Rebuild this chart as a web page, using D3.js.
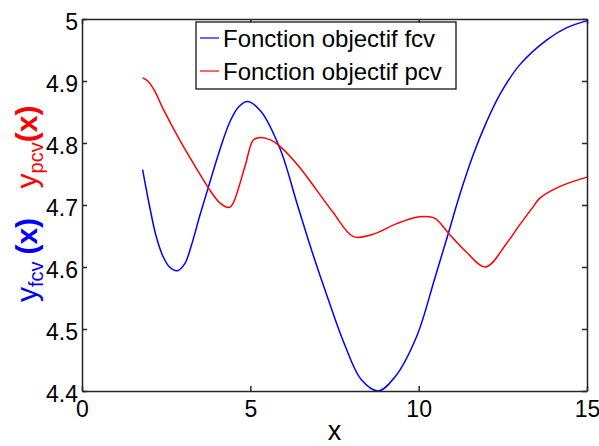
<!DOCTYPE html>
<html>
<head>
<meta charset="utf-8">
<script src="https://cdn.jsdelivr.net/npm/d3@7"></script>
<style>
  body { margin: 0; background: #fff; }
  svg { display: block; font-family: "Liberation Sans", Arial, Helvetica, sans-serif; }
</style>
</head>
<body>
<svg id="chart" width="599" height="446"></svg>
<script>
// curve
const fcvX = [1.8, 2.0, 2.2, 2.4, 2.6, 2.83, 3.05, 3.25, 3.5, 3.75, 4.1, 4.4, 4.65, 4.91, 5.3, 5.88, 6.4, 6.82, 7.3, 7.8, 8.3, 8.8, 9.3, 9.94, 10.48, 10.88, 11.2, 11.62, 12.0, 12.41, 13.0, 13.8, 14.4, 15.0];
const fcvY = [4.757, 4.700, 4.650, 4.618, 4.600, 4.594, 4.605, 4.635, 4.683, 4.728, 4.790, 4.835, 4.858, 4.867, 4.852, 4.791, 4.70, 4.627, 4.55, 4.475, 4.418, 4.400, 4.423, 4.488, 4.582, 4.654, 4.713, 4.781, 4.832, 4.878, 4.926, 4.966, 4.986, 4.997];

const pcvX = [1.8, 1.95, 2.15, 2.41, 2.9, 3.41, 3.75, 4.1, 4.38, 4.49, 4.84, 5.09, 5.3, 5.6, 5.83, 6.4, 6.97, 7.47, 8.06, 8.6, 9.35, 9.9, 10.29, 10.5, 10.88, 11.4, 11.99, 12.61, 13.0, 13.4, 13.6, 14.2, 15.0];
const pcvY = [4.905, 4.900, 4.885, 4.855, 4.805, 4.758, 4.728, 4.703, 4.696, 4.703, 4.762, 4.805, 4.809, 4.805, 4.797, 4.765, 4.724, 4.687, 4.649, 4.652, 4.670, 4.680, 4.681, 4.678, 4.655, 4.625, 4.600, 4.638, 4.668, 4.697, 4.711, 4.730, 4.745];

const xTicks = [0, 5, 10, 15];
const yTicks = [4.4, 4.5, 4.6, 4.7, 4.8, 4.9, 5];
const legendLabels = ['Fonction objectif fcv', 'Fonction objectif pcv'];
const seriesColors = ['#0000ff', '#ff0000'];

const svg = d3.select('#chart');
const box = { left: 82, right: 587, top: 19, bottom: 391 };

const x = d3.scaleLinear().domain([0, 15]).range([box.left, box.right]);
const y = d3.scaleLinear().domain([4.4, 5]).range([box.bottom, box.top]);

const series = [
    { xs: fcvX, ys: fcvY, color: seriesColors[0] },
    { xs: pcvX, ys: pcvY, color: seriesColors[1] }
];

const line = d3.line()
    .x(d => x(d[0]))
    .y(d => y(d[1]))
    .curve(d3.curveCatmullRom.alpha(0.5));

series.forEach(s => {
    svg.append('path')
        .datum(s.xs.map((v, i) => [v, s.ys[i]]))
        .attr('d', line)
        .attr('fill', 'none')
        .attr('stroke', s.color)
        .attr('stroke-width', 1.5);
});

// axes box with inward ticks on all four sides
const tickLen = 5;
const axisColor = '#262626';

svg.append('g')
    .attr('transform', `translate(0,${box.bottom})`)
    .call(d3.axisBottom(x).tickValues(xTicks).tickSizeInner(-tickLen).tickSizeOuter(0).tickFormat(d3.format('d')))
    .call(g => g.selectAll('text').attr('dy', null).attr('y', 26).style('font-size', '23px').attr('fill', '#000'))
    .call(g => g.selectAll('line, path').attr('stroke', axisColor).attr('stroke-width', 1.5));

svg.append('g')
    .attr('transform', `translate(0,${box.top})`)
    .call(d3.axisTop(x).tickValues(xTicks).tickSizeInner(-tickLen).tickSizeOuter(0).tickFormat(''))
    .call(g => g.selectAll('line, path').attr('stroke', axisColor).attr('stroke-width', 1.5));

svg.append('g')
    .attr('transform', `translate(${box.left},0)`)
    .call(d3.axisLeft(y).tickValues(yTicks).tickSizeInner(-tickLen).tickSizeOuter(0).tickFormat(d => d === 5 ? '5' : d3.format('.1f')(d)))
    .call(g => g.selectAll('text').attr('dy', null).attr('x', -4).attr('y', 10.5).style('font-size', '23px').attr('fill', '#000'))
    .call(g => g.selectAll('line, path').attr('stroke', axisColor).attr('stroke-width', 1.5));

svg.append('g')
    .attr('transform', `translate(${box.right},0)`)
    .call(d3.axisRight(y).tickValues(yTicks).tickSizeInner(-tickLen).tickSizeOuter(0).tickFormat(''))
    .call(g => g.selectAll('line, path').attr('stroke', axisColor).attr('stroke-width', 1.5));

// x label
svg.append('text')
    .attr('x', (box.left + box.right) / 2)
    .attr('y', 440)
    .attr('text-anchor', 'middle')
    .style('font-size', '27px')
    .text('x');

// y labels (two stacked, rotated)
function yLabel(cy, sub, color, gap) {
    const t = svg.append('text')
        .attr('transform', `translate(37,${cy}) rotate(-90)`)
        .attr('text-anchor', 'middle')
        .attr('fill', color)
        .style('font-size', '30px');
    t.append('tspan').text('y');
    t.append('tspan').attr('dy', 6).style('font-size', '20px').text(sub);
    t.append('tspan').attr('dy', -6).attr('dx', gap).style('font-weight', 'bold').text('(x)');
}
yLabel(147, 'pcv', seriesColors[1], 0);
yLabel(260, 'fcv', seriesColors[0], 7);

// legend
const lg = svg.append('g').attr('transform', 'translate(196,22)');
lg.append('rect')
    .attr('width', 260).attr('height', 67)
    .attr('fill', '#fff').attr('stroke', '#000').attr('stroke-width', 1.2);
legendLabels.forEach((lab, i) => {
    const yy = 16 + i * 33;
    lg.append('line')
        .attr('x1', 4).attr('x2', 23).attr('y1', yy).attr('y2', yy)
        .attr('stroke', seriesColors[i]).attr('stroke-width', 1.2);
    lg.append('text')
        .attr('x', 27).attr('y', yy + 9)
        .style('font-size', '24px')
        .attr('fill', '#000')
        .text(lab);
});
</script>
</body>
</html>
